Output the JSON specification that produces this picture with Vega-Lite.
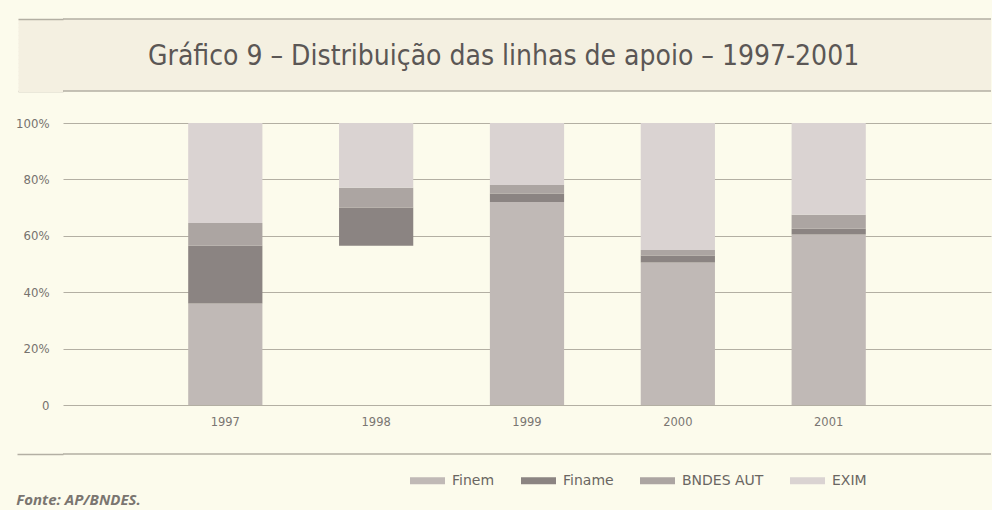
{
  "$schema": "https://vega.github.io/schema/vega-lite/v6.json",
  "background": "#fcfbec",
  "padding": {"left": 15, "top": 18, "right": 2, "bottom": 2},
  "spacing": 25,
  "config": {
    "view": {"stroke": null},
    "font": "DejaVu Sans Condensed",
    "legend": {
      "orient": "none",
      "legendX": 347,
      "legendY": 444,
      "direction": "horizontal",
      "symbolType": "M-1,-0.2H1V0.2H-1Z",
      "symbolSize": 1225,
      "symbolStrokeWidth": 0,
      "symbolOpacity": 1,
      "labelFontSize": 14,
      "labelColor": "#6a6662",
      "labelFont": "DejaVu Sans",
      "columnPadding": 26,
      "labelOffset": 7,
      "title": null
    }
  },
  "datasets": {
    "bordas_cabecalho": [{"borda": 0}, {"borda": 1}],
    "borda_rodape": [{"borda": 1}],
    "linhas": [
      {"ano": "1997", "linha": "Finem", "inicio": 0, "fim": 36},
      {"ano": "1997", "linha": "Finame", "inicio": 36, "fim": 56.5},
      {"ano": "1997", "linha": "BNDES AUT", "inicio": 56.5, "fim": 64.5},
      {"ano": "1997", "linha": "EXIM", "inicio": 64.5, "fim": 100},
      {"ano": "1998", "linha": "Finame", "inicio": 56.5, "fim": 70},
      {"ano": "1998", "linha": "BNDES AUT", "inicio": 70, "fim": 77},
      {"ano": "1998", "linha": "EXIM", "inicio": 77, "fim": 100},
      {"ano": "1999", "linha": "Finem", "inicio": 0, "fim": 72},
      {"ano": "1999", "linha": "Finame", "inicio": 72, "fim": 75},
      {"ano": "1999", "linha": "BNDES AUT", "inicio": 75, "fim": 78},
      {"ano": "1999", "linha": "EXIM", "inicio": 78, "fim": 100},
      {"ano": "2000", "linha": "Finem", "inicio": 0, "fim": 50.5},
      {"ano": "2000", "linha": "Finame", "inicio": 50.5, "fim": 53},
      {"ano": "2000", "linha": "BNDES AUT", "inicio": 53, "fim": 55},
      {"ano": "2000", "linha": "EXIM", "inicio": 55, "fim": 100},
      {"ano": "2001", "linha": "Finem", "inicio": 0, "fim": 60.5},
      {"ano": "2001", "linha": "Finame", "inicio": 60.5, "fim": 62.5},
      {"ano": "2001", "linha": "BNDES AUT", "inicio": 62.5, "fim": 67.5},
      {"ano": "2001", "linha": "EXIM", "inicio": 67.5, "fim": 100}
    ]
  },
  "vconcat": [
    {
      "width": 928,
      "height": 72,
      "view": {"fill": "#f4f0e1", "stroke": null},
      "title": {
        "text": "Gráfico 9 – Distribuição das linhas de apoio – 1997-2001",
        "anchor": "middle",
        "frame": "bounds",
        "offset": -53,
        "fontSize": 28,
        "fontWeight": "normal",
        "color": "#5b5755",
        "font": "DejaVu Sans Condensed"
      },
      "data": {"name": "bordas_cabecalho"},
      "mark": {"type": "rule", "color": "#b3afa3", "strokeWidth": 1.5},
      "encoding": {
        "y": {
          "field": "borda",
          "type": "quantitative",
          "scale": {"domain": [0, 1], "nice": false, "zero": false},
          "axis": {
            "values": [0.97222, 0.91667, 0.86111, 0.80556, 0.75, 0.69444, 0.63889, 0.58333, 0.52778, 0.47222, 0.41667, 0.36111, 0.30556, 0.25, 0.19444, 0.13889, 0.08333, 0.02778, 0, 1],
            "labels": false,
            "grid": false,
            "domain": false,
            "title": null,
            "ticks": true,
            "tickRound": false,
            "tickSize": 45,
            "tickCap": "butt",
            "tickWidth": {"condition": {"test": "datum.value == 0 || datum.value == 1", "value": 1.5}, "value": 5},
            "tickColor": {"condition": {"test": "datum.value == 0 || datum.value == 1", "value": "#b3afa3"}, "value": "#f4f0e1"},
            "minExtent": 0
          }
        }
      }
    },
    {
      "width": 928,
      "height": 282,
      "data": {"name": "linhas"},
      "mark": {"type": "bar"},
      "encoding": {
        "x": {
          "field": "ano",
          "type": "nominal",
          "scale": {"paddingInner": 0.508, "paddingOuter": 0.83},
          "axis": {"title": null, "labelAngle": 0, "ticks": false, "domain": false, "labelPadding": 11, "labelFontSize": 11.5, "labelColor": "#7a7672", "labelFont": "DejaVu Sans"}
        },
        "y": {
          "field": "inicio",
          "type": "quantitative",
          "scale": {"domain": [0, 100], "nice": false},
          "axis": {
            "title": null,
            "values": [0, 20, 40, 60, 80, 100],
            "labelExpr": "datum.value == 0 ? '0' : datum.value + '%'",
            "ticks": false,
            "domain": false,
            "labelPadding": 14,
            "labelFontSize": 13,
            "labelColor": "#76726e",
            "labelFont": "DejaVu Sans Condensed",
            "gridColor": "#b3afa3",
            "gridWidth": 1.2,
            "minExtent": 47
          }
        },
        "y2": {"field": "fim"},
        "color": {
          "field": "linha",
          "type": "nominal",
          "scale": {"domain": ["Finem", "Finame", "BNDES AUT", "EXIM"], "range": ["#c0b9b6", "#8b8482", "#aca5a2", "#dad3d2"]}
        }
      }
    },
    {
      "width": 928,
      "height": 20,
      "title": {
        "text": "Fonte: AP/BNDES.",
        "orient": "bottom",
        "anchor": "start",
        "frame": "bounds",
        "offset": 19,
        "fontSize": 15,
        "fontStyle": "italic",
        "fontWeight": "bold",
        "color": "#7a7570",
        "font": "Open Sans"
      },
      "data": {"name": "borda_rodape"},
      "mark": {"type": "rule", "color": "#b3afa3", "strokeWidth": 1.5},
      "encoding": {
        "y": {
          "field": "borda",
          "type": "quantitative",
          "scale": {"domain": [0, 1], "nice": false, "zero": false},
          "axis": {
            "values": [1],
            "labels": false,
            "grid": false,
            "domain": false,
            "title": null,
            "ticks": true,
            "tickSize": 46,
            "tickWidth": 1.5,
            "tickColor": "#b3afa3",
            "minExtent": 0
          }
        }
      }
    }
  ]
}
